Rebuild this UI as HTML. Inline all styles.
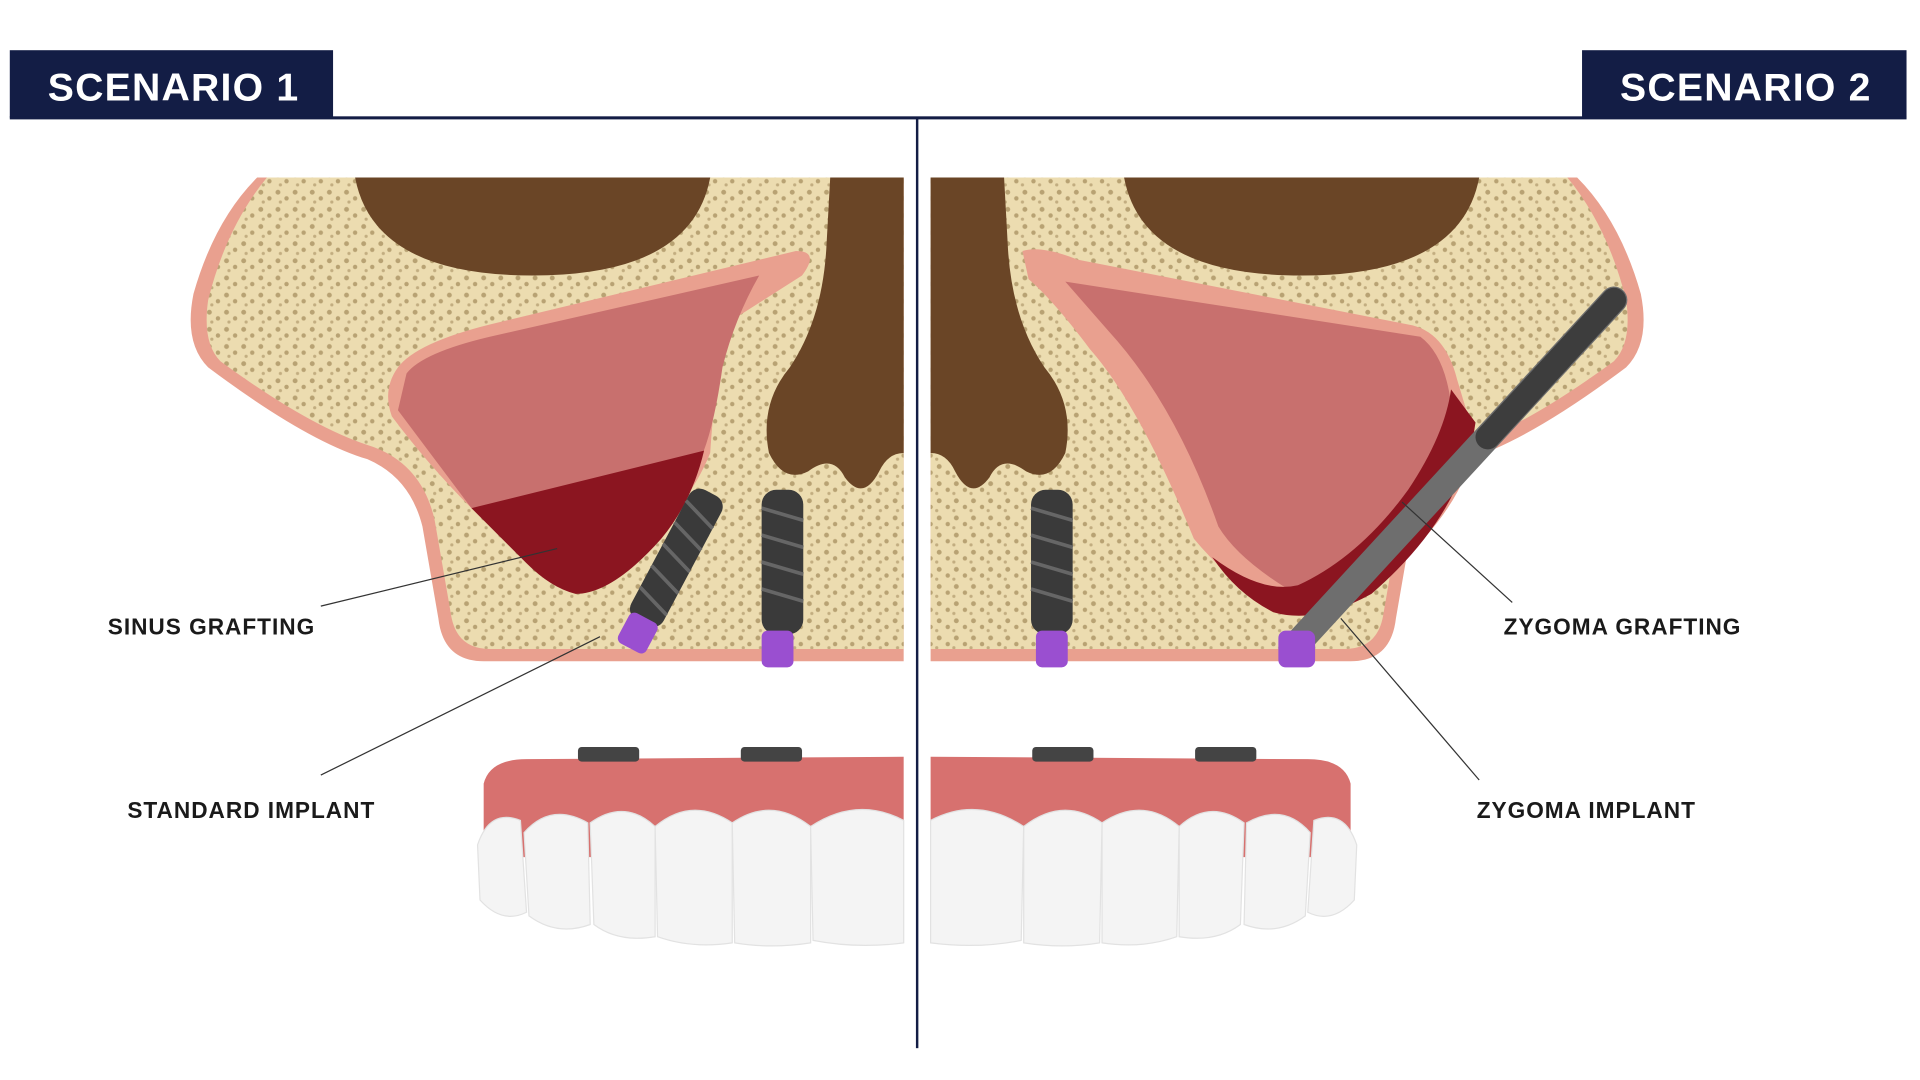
<!DOCTYPE html>
<html><head><style>
html,body{margin:0;padding:0;background:#fff;width:1920px;height:1080px;overflow:hidden}
svg{display:block}
</style></head><body>
<svg width="1920" height="1080" viewBox="0 0 1568 882" preserveAspectRatio="none" xmlns="http://www.w3.org/2000/svg">
<defs>
<pattern id="sp" width="14" height="14" patternUnits="userSpaceOnUse">
<rect width="14" height="14" fill="#ecdcb0"/>
<circle cx="3" cy="3" r="2" fill="#b8a273"/><circle cx="10" cy="8" r="1.8" fill="#b8a273"/><circle cx="5" cy="11" r="1.3" fill="#c2ad80"/>
</pattern>
<g id="bone">
<path d="M210,145 L738,145 L738,540 L395,540 Q362,540 358,505 L345,430 Q335,390 300,375 Q250,360 170,300 Q150,280 158,240 Q175,180 210,145 Z" fill="#e9a08f"/>
<path d="M218,145 L738,145 L738,530 L400,530 Q372,530 368,500 L355,425 Q345,380 305,365 Q255,350 180,295 Q165,280 170,245 Q185,185 218,145 Z" fill="url(#sp)"/>
<path d="M290,145 L580,145 Q565,225 435,225 Q305,225 290,145 Z" fill="#6a4526"/>
<path d="M678,145 L738,145 L738,370 Q725,370 718,385 Q705,410 690,390 Q680,370 660,385 Q640,395 628,370 Q620,330 645,300 Q672,260 675,200 Z" fill="#6a4526"/>
</g>
<g id="teeth">
<path d="M395,640 Q400,620 430,620 L738,618 L738,700 L395,700 Z" fill="#d7716f"/>
<rect x="472" y="610" width="50" height="12" rx="3" fill="#444"/>
<rect x="605" y="610" width="50" height="12" rx="3" fill="#444"/>
<g fill="#f4f4f4" stroke="#e2e2e2">
<path d="M390,690 Q400,660 425,670 L430,745 Q410,755 392,735 Z"/>
<path d="M428,680 Q450,655 480,672 L482,755 Q455,765 432,748 Z"/>
<path d="M482,672 Q510,652 535,675 L535,765 Q505,770 485,755 Z"/>
<path d="M535,675 Q565,650 598,672 L598,770 Q565,775 537,765 Z"/>
<path d="M598,672 Q630,650 662,675 L662,770 Q630,775 600,770 Z"/>
<path d="M662,675 Q700,650 738,670 L738,770 Q700,775 664,768 Z"/>
</g>
</g>
</defs>
<rect x="8" y="41" width="264" height="55" fill="#131d45"/>
<rect x="1292" y="41" width="265" height="55" fill="#131d45"/>
<text x="39" y="82" fill="#fff" font-family="Liberation Sans,sans-serif" font-weight="bold" font-size="32" letter-spacing="1">SCENARIO 1</text>
<text x="1323" y="82" fill="#fff" font-family="Liberation Sans,sans-serif" font-weight="bold" font-size="32" letter-spacing="1">SCENARIO 2</text>
<rect x="8" y="95" width="1549" height="2.5" fill="#131d45"/>
<rect x="748" y="96" width="2" height="760" fill="#131d45"/>

<use href="#bone"/>
<g transform="translate(1498,0) scale(-1,1)"><use href="#bone"/><use href="#teeth"/></g>
<use href="#teeth"/>

<path d="M325,300 Q340,280 400,265 L650,205 Q670,205 655,225 L600,260 Q585,290 580,370 Q560,420 500,470 Q470,490 450,470 L385,415 Q350,380 320,340 Q312,318 325,300 Z" fill="#e9a08f"/>
<path d="M332,305 Q345,288 400,275 L620,225 Q600,260 590,300 Q583,350 572,375 L385,415 Q355,375 325,335 Z" fill="#c8706e"/>
<path d="M385,415 L575,368 Q565,410 540,440 Q500,485 470,485 Q450,480 430,460 Z" fill="#8b1520"/>
<g transform="rotate(28 550 460)"><rect x="535" y="395" width="30" height="120" rx="10" fill="#3a3a3a"/>
<g stroke="#666" stroke-width="3"><line x1="535" y1="410" x2="565" y2="420"/><line x1="535" y1="430" x2="565" y2="440"/><line x1="535" y1="450" x2="565" y2="460"/><line x1="535" y1="470" x2="565" y2="480"/><line x1="535" y1="490" x2="565" y2="500"/></g>
<rect x="538" y="510" width="26" height="28" rx="5" fill="#9a4fd0"/></g>
<rect x="622" y="400" width="34" height="118" rx="12" fill="#3a3a3a"/>
<g stroke="#666" stroke-width="3"><line x1="622" y1="415" x2="656" y2="425"/><line x1="622" y1="437" x2="656" y2="447"/><line x1="622" y1="459" x2="656" y2="469"/><line x1="622" y1="481" x2="656" y2="491"/></g>
<rect x="622" y="515" width="26" height="30" rx="5" fill="#9a4fd0"/>

<path d="M835,205 Q850,200 880,212 L1150,265 Q1180,270 1190,310 L1205,360 Q1195,420 1120,480 Q1070,510 1040,500 Q1000,470 975,440 Q930,330 890,285 Q860,245 840,228 Z" fill="#e9a08f"/>
<path d="M870,230 L1160,275 Q1180,290 1185,330 Q1170,400 1120,450 Q1080,490 1050,480 Q1010,455 995,430 Q960,330 905,270 Z" fill="#c8706e"/>
<path d="M1185,318 L1205,345 Q1195,420 1120,485 Q1075,510 1040,500 Q1010,485 990,455 Q1030,485 1060,478 Q1110,455 1150,400 Q1180,355 1185,318 Z" fill="#8b1520"/>
<rect x="842" y="400" width="34" height="118" rx="12" fill="#3a3a3a"/>
<g stroke="#666" stroke-width="3"><line x1="842" y1="415" x2="876" y2="425"/><line x1="842" y1="437" x2="876" y2="447"/><line x1="842" y1="459" x2="876" y2="469"/><line x1="842" y1="481" x2="876" y2="491"/></g>
<rect x="846" y="515" width="26" height="30" rx="5" fill="#9a4fd0"/>
<line x1="1060" y1="525" x2="1318" y2="245" stroke="#6e6e6e" stroke-width="22" stroke-linecap="round"/>
<line x1="1215" y1="357" x2="1318" y2="245" stroke="#3d3d3d" stroke-width="20" stroke-linecap="round"/>
<rect x="1044" y="515" width="30" height="30" rx="6" fill="#9a4fd0"/>

<g stroke="#333" stroke-width="1">
<line x1="262" y1="495" x2="455" y2="448"/>
<line x1="262" y1="633" x2="490" y2="520"/>
<line x1="1235" y1="492" x2="1145" y2="410"/>
<line x1="1208" y1="637" x2="1095" y2="505"/>
</g>
<g font-family="Liberation Sans,sans-serif" font-weight="bold" font-size="18.5" fill="#1a1a1a" letter-spacing="0.8">
<text x="88" y="518">SINUS GRAFTING</text>
<text x="104" y="668">STANDARD IMPLANT</text>
<text x="1228" y="518">ZYGOMA GRAFTING</text>
<text x="1206" y="668">ZYGOMA IMPLANT</text>
</g>
</svg>
</body></html>
